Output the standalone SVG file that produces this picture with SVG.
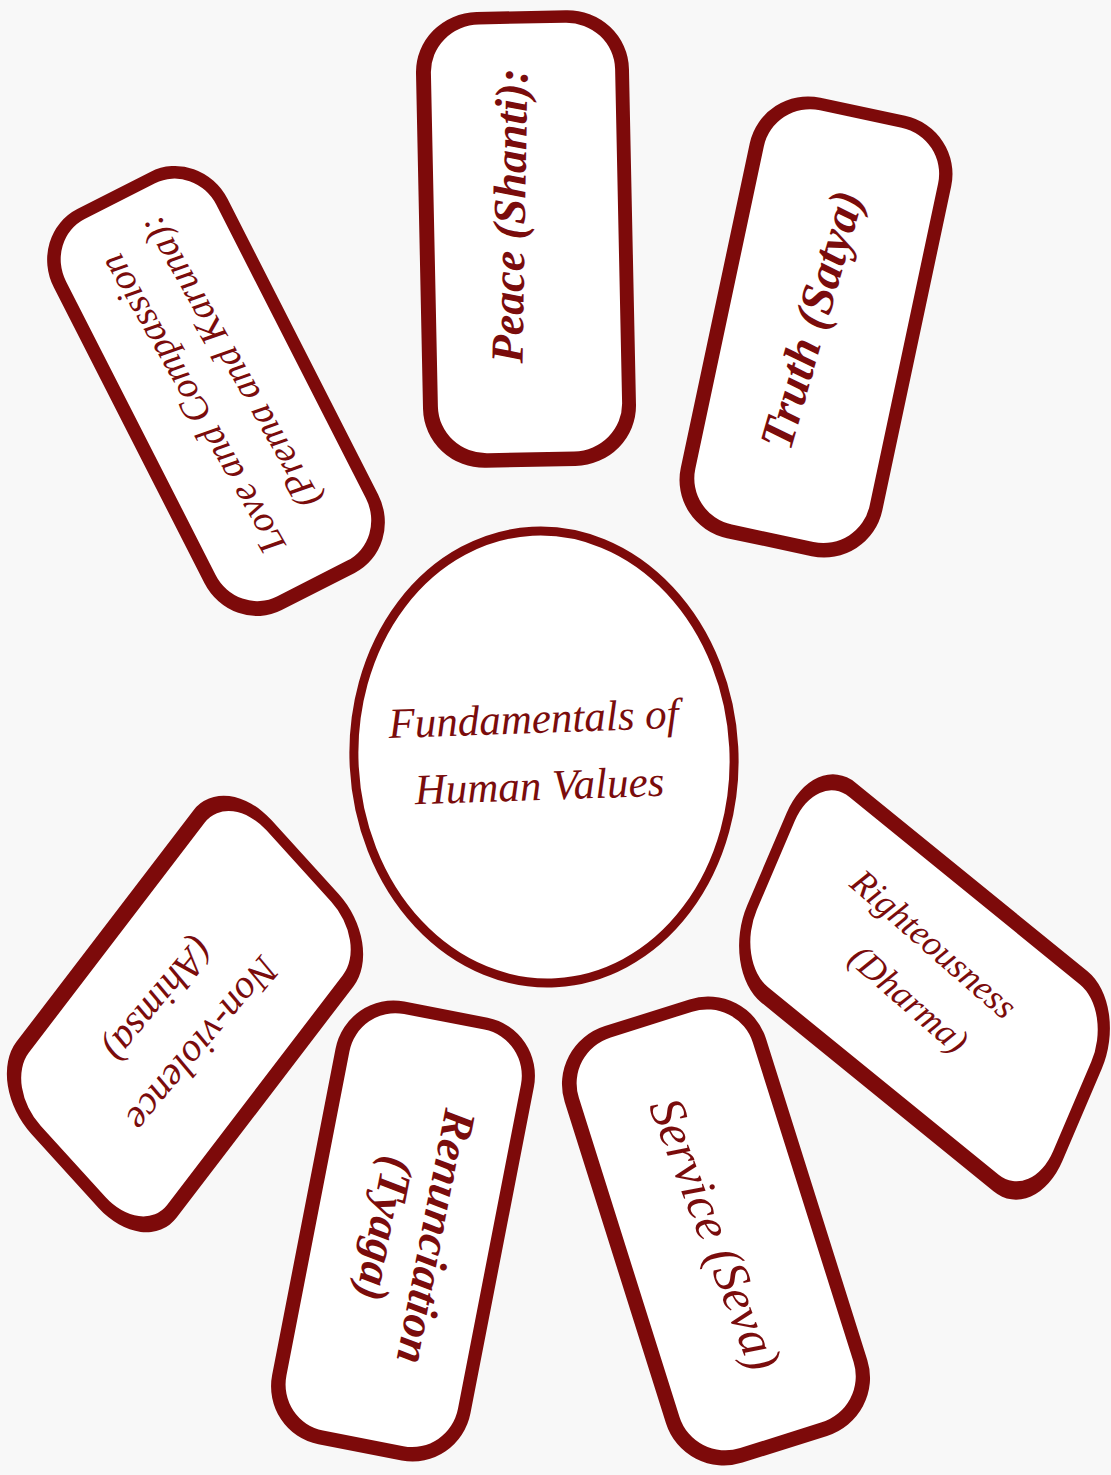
<svg xmlns="http://www.w3.org/2000/svg" xmlns:xlink="http://www.w3.org/1999/xlink" width="1111" height="1475" viewBox="0 0 1111 1475">
<style>
.bo{fill:#7d0a0a}
.bi{fill:#ffffff}
.t{fill:#7a0c0c;font-family:"Liberation Serif","DejaVu Serif",serif;font-style:italic;text-anchor:middle}
.b{font-weight:bold}
.hub{fill:#ffffff;stroke:#7d0a0a;stroke-width:9}
</style>
<defs>
<g id="card">
<rect class="bo" x="-100" y="-220" width="200" height="440" rx="58" ry="58"/>
<rect class="bi" x="-86" y="-208" width="173" height="414" rx="46" ry="46"/>
</g>
</defs>
<rect x="0" y="0" width="1111" height="1475" fill="#f8f8f8"/>
<g id="connectors"></g>
<g id="node-peace">
<use xlink:href="#card" href="#card" transform="translate(526 239) rotate(-1.2) scale(1.065 1.036)"/>
<text class="t b" font-size="46" transform="translate(525 216) rotate(-89)">Peace (Shanti):</text>
</g>
<g id="node-truth">
<use xlink:href="#card" href="#card" transform="translate(816 327) rotate(12) scale(1.03 1.023)"/>
<text class="t b" font-size="48" transform="translate(827 324) rotate(-74)">Truth (Satya)</text>
</g>
<g id="node-love">
<use xlink:href="#card" href="#card" transform="translate(216 391) rotate(-27) scale(0.975 1.023)"/>
<text class="t" font-size="38" transform="translate(203 398) rotate(-119.6)">Love and Compassion</text>
<text class="t" font-size="38" transform="translate(240 356) rotate(-119.6)">(Prema and Karuna):</text>
</g>
<g id="node-nonviolence">
<use xlink:href="#card" href="#card" transform="matrix(0.80 0.88 -0.5455 0.7136 185 1014)"/>
<text class="t" font-size="40" transform="translate(192.5 1035.6) rotate(130)">Non-violence</text>
<text class="t" font-size="40" transform="translate(149 992) rotate(130)">(Ahimsa)</text>
</g>
<g id="node-renunciation">
<use xlink:href="#card" href="#card" transform="translate(403 1231) rotate(11) scale(1.01 1.025)"/>
<text class="t b" font-size="46" transform="translate(421 1234) rotate(101)">Renunciation</text>
<text class="t b" font-size="46" transform="translate(370 1226) rotate(101)">(Tyaga)</text>
</g>
<g id="node-service">
<use xlink:href="#card" href="#card" transform="translate(716 1231) rotate(-17.5) scale(1.055 1.04)"/>
<text class="t" font-size="50" transform="translate(700 1240) rotate(69)">Service (Seva)</text>
</g>
<g id="node-righteousness">
<use xlink:href="#card" href="#card" transform="matrix(0.47 -1.10 0.716 0.582 924.5 987)"/>
<text class="t" font-size="36" transform="translate(926 953) rotate(41)">Righteousness</text>
<text class="t" font-size="36" transform="translate(901 1008) rotate(41)">(Dharma)</text>
</g>
<g id="node-center">
<ellipse class="hub" cx="544" cy="757" rx="190" ry="226" transform="rotate(-3 544 757)"/>
<text class="t" font-size="43" transform="translate(534 733) rotate(-2)">Fundamentals of</text>
<text class="t" font-size="43" transform="translate(540 800) rotate(-2)">Human Values</text>
</g>
</svg>
